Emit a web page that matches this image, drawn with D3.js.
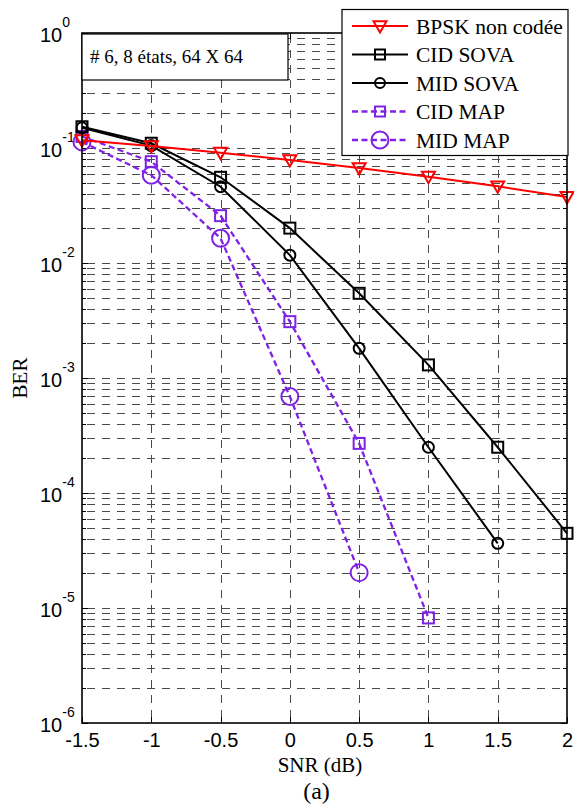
<!DOCTYPE html>
<html>
<head>
<meta charset="utf-8">
<script src="https://cdn.jsdelivr.net/npm/d3@7"></script>
<style>
  body { margin: 0; background: #fff; }
  svg { display: block; }
</style>
</head>
<body>
<div id="chart"></div>
<script>
// Data
const snr = [-1.5, -1, -0.5, 0, 0.5, 1, 1.5, 2];
const bpskUncoded = [0.117, 0.104, 0.091, 0.0786, 0.067, 0.0563, 0.0464, 0.0375];
const cidSova = [0.153, 0.11, 0.0556, 0.0201, 0.00545, 0.0013, 2.5e-4, 4.46e-5];
const midSova = [0.15, 0.105, 0.0461, 0.0117, 0.00181, 2.5e-4, 3.65e-5];
const cidMap = [0.126, 0.076, 0.0258, 0.00309, 2.7e-4, 8.2e-6];
const midMap = [0.113, 0.058, 0.0164, 6.9e-4, 2.03e-5];

const xTicks = [-1.5, -1, -0.5, 0, 0.5, 1, 1.5, 2];
const xTickLabels = ["-1.5", "-1", "-0.5", "0", "0.5", "1", "1.5", "2"];
const yExponents = [0, -1, -2, -3, -4, -5, -6];

const seriesNames = ["BPSK non codée", "CID SOVA", "MID SOVA", "CID MAP", "MID MAP"];

const RED = "#ff0000";
const PURPLE = "#7f22e6";
const SANS = "'Liberation Sans', Arial, sans-serif";
const SERIF = "'Liberation Serif', 'Times New Roman', serif";

const width = 574, height = 808;
const margin = { top: 33, right: 7, bottom: 85, left: 82 };
const innerW = width - margin.left - margin.right;
const innerH = height - margin.top - margin.bottom;

const svg = d3.select("#chart").append("svg")
    .attr("width", width)
    .attr("height", height);

svg.append("rect").attr("width", width).attr("height", height).attr("fill", "#fff");

const g = svg.append("g")
    .attr("transform", `translate(${margin.left}, ${margin.top})`);

// Scales
const x = d3.scaleLinear().domain([-1.5, 2]).range([0, innerW]);
const y = d3.scaleLog().domain([1e-6, 1]).range([innerH, 0]);

// Minor and major y values for grid
const yMinor = [];
for (let e = -6; e < 0; e++) {
    for (let m = 2; m <= 9; m++) yMinor.push(m * Math.pow(10, e));
}
const yMajor = yExponents.map(e => Math.pow(10, e));

// Grid
const grid = g.append("g")
    .attr("stroke", "#4a4a4a")
    .attr("stroke-width", 1)
    .attr("stroke-dasharray", "8,7")
    .attr("stroke-dashoffset", -5)
    .attr("fill", "none");

grid.selectAll("line.hgrid")
    .data(yMinor.concat(yMajor.slice(1, -1)))
    .join("line")
    .attr("class", "hgrid")
    .attr("x1", 0).attr("x2", innerW)
    .attr("y1", d => Math.round(y(d)) + 0.5)
    .attr("y2", d => Math.round(y(d)) + 0.5);

grid.selectAll("line.vgrid")
    .data(xTicks.slice(1, -1))
    .join("line")
    .attr("class", "vgrid")
    .attr("y1", innerH).attr("y2", 0)
    .attr("x1", d => Math.round(x(d)) + 0.5)
    .attr("x2", d => Math.round(x(d)) + 0.5);

// Inward ticks (MATLAB style)
const tk = g.append("g").attr("stroke", "#000").attr("stroke-width", 1);
xTicks.forEach(v => {
    const px = Math.round(x(v)) + 0.5;
    tk.append("line").attr("x1", px).attr("x2", px).attr("y1", innerH).attr("y2", innerH - 6);
    tk.append("line").attr("x1", px).attr("x2", px).attr("y1", 0).attr("y2", 6);
});
yMinor.concat(yMajor).forEach(v => {
    const py = Math.round(y(v)) + 0.5;
    const len = yMajor.includes(v) ? 6 : 4;
    tk.append("line").attr("x1", 0).attr("x2", len).attr("y1", py).attr("y2", py);
    tk.append("line").attr("x1", innerW).attr("x2", innerW - len).attr("y1", py).attr("y2", py);
});

// X axis labels
const xAxis = g.append("g")
    .attr("transform", `translate(0, ${innerH})`)
    .call(d3.axisBottom(x).tickValues(xTicks).tickSize(0).tickPadding(0)
        .tickFormat((d, i) => xTickLabels[i]));
xAxis.select(".domain").remove();
xAxis.selectAll("text")
    .attr("y", 24)
    .attr("dy", null)
    .attr("fill", "#000")
    .style("font-family", SANS)
    .style("font-size", "20px");

// Y axis labels with superscripts
const yAxis = g.append("g")
    .call(d3.axisLeft(y).tickValues(yMajor).tickSize(0).tickFormat(""));
yAxis.select(".domain").remove();
yAxis.selectAll(".tick").each(function(d) {
    const e = Math.round(Math.log10(d));
    const t = d3.select(this).append("text")
        .attr("x", -42)
        .attr("y", 8)
        .attr("text-anchor", "start")
        .attr("fill", "#000")
        .style("font-family", SANS)
        .style("font-size", "20px");
    t.append("tspan").text("10");
    t.append("tspan")
        .attr("dy", -15)
        .style("font-size", "14px")
        .text(String(e));
});

// Series
const lineGen = d3.line()
    .x(d => x(d[0]))
    .y(d => y(d[1]));

const series = [
    { name: seriesNames[0], values: bpskUncoded, color: RED, dash: null, marker: "tri", size: 6.5, lw: 2 },
    { name: seriesNames[1], values: cidSova, color: "#000", dash: null, marker: "sq", size: 5.5, lw: 2 },
    { name: seriesNames[2], values: midSova, color: "#000", dash: null, marker: "circ", size: 5.5, lw: 2 },
    { name: seriesNames[3], values: cidMap, color: PURPLE, dash: "6,3.5", marker: "sq", size: 5.5, lw: 2.3 },
    { name: seriesNames[4], values: midMap, color: PURPLE, dash: "6,3.5", marker: "circ", size: 8.5, lw: 2.3 }
];

function drawMarker(sel, type, cx, cy, s, color, lw) {
    if (type === "sq") {
        sel.append("rect")
            .attr("x", cx - s).attr("y", cy - s)
            .attr("width", 2 * s).attr("height", 2 * s)
            .attr("fill", "none").attr("stroke", color).attr("stroke-width", lw);
    } else if (type === "circ") {
        sel.append("circle")
            .attr("cx", cx).attr("cy", cy).attr("r", s)
            .attr("fill", "none").attr("stroke", color).attr("stroke-width", lw);
    } else {
        sel.append("path")
            .attr("d", `M${cx - s},${cy - s * 0.75}L${cx + s},${cy - s * 0.75}L${cx},${cy + s}Z`)
            .attr("fill", "none").attr("stroke", color).attr("stroke-width", lw);
    }
}

// Draw in reverse so BPSK / SOVA sit on top like the reference
series.slice().reverse().forEach(s => {
    const pts = s.values.map((v, i) => [snr[i], v]);
    const sg = g.append("g");
    sg.append("path")
        .datum(pts)
        .attr("d", lineGen)
        .attr("fill", "none")
        .attr("stroke", s.color)
        .attr("stroke-width", s.lw)
        .attr("stroke-dasharray", s.dash);
    pts.forEach(p => drawMarker(sg, s.marker, x(p[0]), y(p[1]), s.size, s.color, 2));
});

// Plot box
g.append("rect")
    .attr("x", 0).attr("y", 0)
    .attr("width", innerW).attr("height", innerH)
    .attr("fill", "none")
    .attr("stroke", "#000")
    .attr("stroke-width", 1.6);

// Annotation box
const ann = svg.append("g");
ann.append("rect")
    .attr("x", 82).attr("y", 34)
    .attr("width", 206).attr("height", 46)
    .attr("fill", "#fff").attr("stroke", "#000").attr("stroke-width", 1.2);
ann.append("text")
    .attr("x", 90).attr("y", 63)
    .style("font-family", SERIF)
    .style("font-size", "19px")
    .text("# 6, 8 états, 64 X 64");

// Legend
const leg = svg.append("g");
leg.append("rect")
    .attr("x", 342).attr("y", 9.5)
    .attr("width", 226).attr("height", 146)
    .attr("fill", "#fff").attr("stroke", "#000").attr("stroke-width", 1.2);
series.forEach((s, i) => {
    const ly = 26 + i * 28.5;
    leg.append("line")
        .attr("x1", 352).attr("x2", 408)
        .attr("y1", ly).attr("y2", ly)
        .attr("stroke", s.color).attr("stroke-width", s.lw)
        .attr("stroke-dasharray", s.dash);
    drawMarker(leg, s.marker, 380, ly, s.marker === "sq" ? 5 : (s.marker === "circ" && s.size < 7 ? 5 : s.size), s.color, 2);
    leg.append("text")
        .attr("x", 416).attr("y", ly + 7.5)
        .style("font-family", SERIF)
        .style("font-size", "21.5px")
        .text(s.name);
});

// Axis titles
svg.append("text")
    .attr("x", 320).attr("y", 772)
    .attr("text-anchor", "middle")
    .style("font-family", SERIF)
    .style("font-size", "21px")
    .text("SNR (dB)");

svg.append("text")
    .attr("x", 316.5).attr("y", 799)
    .attr("text-anchor", "middle")
    .style("font-family", SERIF)
    .style("font-size", "24px")
    .text("(a)");

svg.append("text")
    .attr("transform", `translate(26.5, ${margin.top + innerH / 2}) rotate(-90)`)
    .attr("text-anchor", "middle")
    .style("font-family", SERIF)
    .style("font-size", "21px")
    .text("BER");
</script>
</body>
</html>
